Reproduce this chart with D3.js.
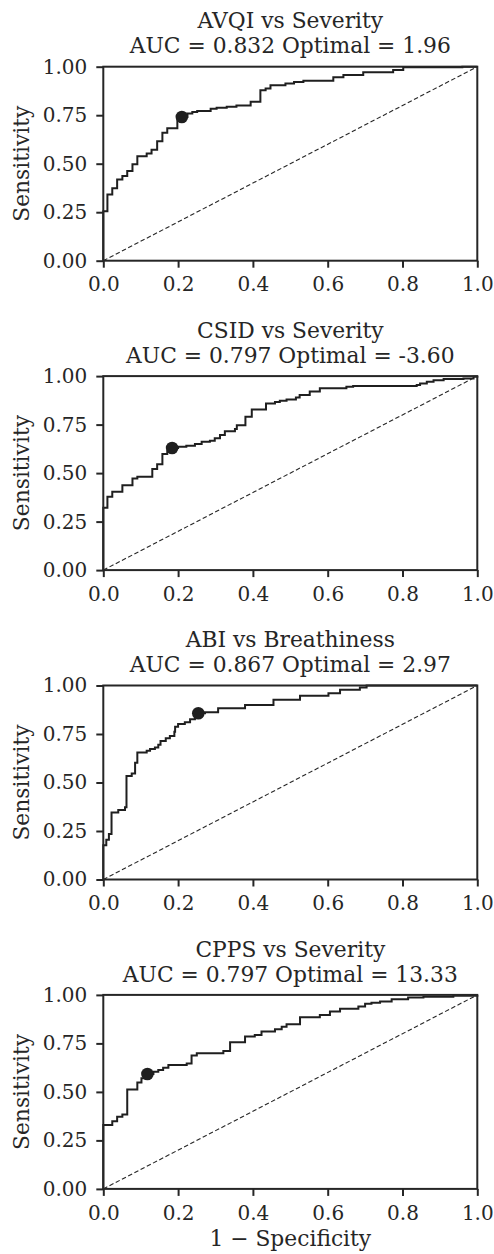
<!DOCTYPE html>
<html>
<head>
<meta charset="utf-8">
<script src="https://cdn.jsdelivr.net/npm/d3@7"></script>
<style>
body { margin: 0; background: #fff; }
svg text { font-family: "DejaVu Serif", serif; fill: #262626; }
</style>
</head>
<body>
<div id="chart"></div>
<script>
// panel titles and the numbers printed under them
var titles = ["AVQI vs Severity", "CSID vs Severity", "ABI vs Breathiness", "CPPS vs Severity"];
var aucs = ["0.832", "0.797", "0.867", "0.797"];
var optimals = ["1.96", "-3.60", "2.97", "13.33"];

// ROC curves (step points: fpr, tpr)
var avqiFpr = [0, 0, 0.011, 0.024, 0.037, 0.051, 0.064, 0.078, 0.091, 0.116, 0.129, 0.144, 0.158, 0.171, 0.198, 0.225, 0.238, 0.251, 0.287, 0.303, 0.33, 0.356, 0.394, 0.42, 0.434, 0.447, 0.487, 0.51, 0.535, 0.615, 0.642, 0.695, 0.775, 0.802, 0.96, 1];
var avqiTpr = [0, 0.255, 0.341, 0.374, 0.419, 0.436, 0.462, 0.497, 0.538, 0.552, 0.572, 0.616, 0.66, 0.683, 0.741, 0.759, 0.767, 0.772, 0.783, 0.788, 0.793, 0.8, 0.819, 0.879, 0.888, 0.905, 0.914, 0.921, 0.928, 0.945, 0.957, 0.971, 0.983, 0.997, 1, 1];

var csidFpr = [0, 0, 0.011, 0.024, 0.051, 0.078, 0.091, 0.131, 0.144, 0.158, 0.171, 0.184, 0.2, 0.222, 0.245, 0.263, 0.285, 0.298, 0.312, 0.325, 0.352, 0.357, 0.38, 0.397, 0.435, 0.459, 0.472, 0.49, 0.515, 0.525, 0.552, 0.579, 0.65, 0.668, 0.838, 0.847, 0.865, 0.883, 0.91, 0.963, 0.99, 1];
var csidTpr = [0, 0.321, 0.378, 0.404, 0.438, 0.472, 0.481, 0.521, 0.546, 0.598, 0.613, 0.629, 0.636, 0.641, 0.65, 0.661, 0.667, 0.679, 0.696, 0.716, 0.727, 0.747, 0.79, 0.828, 0.859, 0.866, 0.873, 0.88, 0.89, 0.902, 0.92, 0.937, 0.945, 0.949, 0.954, 0.962, 0.971, 0.979, 0.985, 0.988, 0.997, 1];

var abiFpr = [0, 0, 0.008, 0.015, 0.022, 0.04, 0.058, 0.062, 0.076, 0.085, 0.091, 0.116, 0.125, 0.138, 0.147, 0.153, 0.167, 0.178, 0.19, 0.192, 0.2, 0.218, 0.232, 0.245, 0.254, 0.272, 0.307, 0.379, 0.455, 0.526, 0.602, 0.633, 0.686, 0.704, 1];
var abiTpr = [0, 0.177, 0.205, 0.235, 0.346, 0.358, 0.372, 0.534, 0.546, 0.602, 0.654, 0.664, 0.673, 0.68, 0.694, 0.714, 0.728, 0.74, 0.762, 0.788, 0.802, 0.811, 0.826, 0.84, 0.857, 0.862, 0.883, 0.9, 0.926, 0.947, 0.96, 0.978, 0.99, 1, 1];

var cppsFpr = [0, 0, 0.024, 0.037, 0.051, 0.064, 0.091, 0.102, 0.118, 0.134, 0.147, 0.16, 0.174, 0.223, 0.236, 0.25, 0.321, 0.339, 0.379, 0.405, 0.423, 0.459, 0.477, 0.49, 0.526, 0.579, 0.606, 0.633, 0.682, 0.7, 0.717, 0.74, 0.771, 0.815, 0.856, 0.936, 1];
var cppsTpr = [0, 0.329, 0.349, 0.372, 0.384, 0.513, 0.549, 0.57, 0.592, 0.604, 0.613, 0.625, 0.639, 0.647, 0.687, 0.699, 0.711, 0.756, 0.785, 0.793, 0.811, 0.823, 0.836, 0.849, 0.885, 0.897, 0.914, 0.928, 0.94, 0.954, 0.96, 0.966, 0.978, 0.986, 0.991, 0.995, 1];

// optimal thresholds (dot)
var optFpr = [0.21, 0.184, 0.254, 0.118];
var optTpr = [0.741, 0.629, 0.857, 0.592];

var xTicks = [0, 0.2, 0.4, 0.6, 0.8, 1.0];
var yTicks = [0, 0.25, 0.5, 0.75, 1.0];

var curves = [
  {fpr: avqiFpr, tpr: avqiTpr},
  {fpr: csidFpr, tpr: csidTpr},
  {fpr: abiFpr, tpr: abiTpr},
  {fpr: cppsFpr, tpr: cppsTpr}
];

var W = 494, H = 1254;
var left = 103.3, plotW = 374, plotH = 194;
var firstTop = 66.7, step = 309.4;
var ink = "#262626";

var svg = d3.select("#chart").append("svg")
  .attr("width", W)
  .attr("height", H);

var x = d3.scaleLinear().domain([0, 1]).range([0, plotW]);
var y = d3.scaleLinear().domain([0, 1]).range([plotH, 0]);

function drawPanel(i) {
  var top = firstTop + i * step;
  var g = svg.append("g")
    .attr("transform", "translate(" + left + "," + top + ")");

  // chance diagonal
  g.append("line")
    .attr("x1", x(0)).attr("y1", y(0))
    .attr("x2", x(1)).attr("y2", y(1))
    .attr("stroke", ink)
    .attr("stroke-width", 1.1)
    .attr("stroke-dasharray", "4.5,2.5");

  var pts = curves[i].fpr.map(function (f, k) { return [f, curves[i].tpr[k]]; });
  var line = d3.line()
    .x(function (d) { return x(d[0]); })
    .y(function (d) { return y(d[1]); })
    .curve(d3.curveStepAfter);

  g.append("path")
    .datum(pts)
    .attr("d", line)
    .attr("fill", "none")
    .attr("stroke", "#1f1f1f")
    .attr("stroke-width", 2);

  g.append("circle")
    .attr("cx", x(optFpr[i]))
    .attr("cy", y(optTpr[i]))
    .attr("r", 6.3)
    .attr("fill", "#1f1f1f");

  var xAxis = d3.axisBottom(x).tickValues(xTicks).tickFormat(d3.format(".1f"))
    .tickSize(7).tickSizeOuter(0).tickPadding(9.5);
  var yAxis = d3.axisLeft(y).tickValues(yTicks).tickFormat(d3.format(".2f"))
    .tickSize(7).tickSizeOuter(0).tickPadding(9);

  var xa = g.append("g")
    .attr("transform", "translate(0," + plotH + ")")
    .call(xAxis);
  var ya = g.append("g").call(yAxis);

  [xa, ya].forEach(function (a) {
    a.selectAll("path").remove();
    a.selectAll("line").attr("stroke", ink).attr("stroke-width", 2);
    a.selectAll("text")
      .style("font-family", "'DejaVu Serif', serif")
      .style("font-size", "20px")
      .attr("fill", ink);
  });

  // frame
  g.append("rect")
    .attr("x", 0).attr("y", 0)
    .attr("width", plotW).attr("height", plotH)
    .attr("fill", "none")
    .attr("stroke", ink)
    .attr("stroke-width", 2);

  g.append("text")
    .attr("x", plotW / 2)
    .attr("y", -38.4)
    .attr("text-anchor", "middle")
    .style("font-size", "21.8px")
    .text(titles[i]);

  g.append("text")
    .attr("x", plotW / 2)
    .attr("y", -13.4)
    .attr("text-anchor", "middle")
    .style("font-size", "21.8px")
    .text("AUC = " + aucs[i] + " Optimal = " + optimals[i]);

  g.append("text")
    .attr("transform", "translate(" + (28.6 - left) + "," + (plotH / 2) + ") rotate(-90)")
    .attr("text-anchor", "middle")
    .style("font-size", "21.8px")
    .text("Sensitivity");

  if (i == 3) {
    g.append("text")
      .attr("x", plotW / 2)
      .attr("y", plotH + 57)
      .attr("text-anchor", "middle")
      .style("font-size", "21.8px")
      .text("1 \u2212 Specificity");
  }
}

for (var i = 0; i < 4; i++) drawPanel(i);
</script>
</body>
</html>
